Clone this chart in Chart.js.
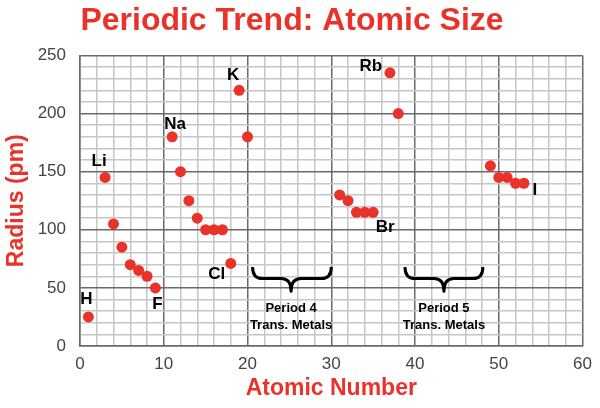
<!DOCTYPE html>
<html>
<head>
<meta charset="utf-8">
<script src="https://cdn.jsdelivr.net/npm/chart.js@4.4.1/dist/chart.umd.min.js"></script>
<style>
  html, body { margin: 0; padding: 0; background: #fff; }
  #wrap { width: 600px; height: 408px; }
</style>
</head>
<body>
<div id="wrap"><canvas id="sizeChart" width="600" height="408"></canvas></div>
<script>
// Atomic number vs. radius (pm)
const atomicNumber = [1, 3, 4, 5, 6, 7, 8, 9, 11, 12, 13, 14, 15, 16, 17, 18, 19, 20,
  31, 32, 33, 34, 35, 37, 38, 49, 50, 51, 52, 53];
const radius = [25, 145, 105, 85, 70, 65, 60, 50, 180, 150, 125, 110, 100, 100, 100, 71, 220, 180,
  130, 125, 115, 115, 115, 235, 200, 155, 145, 145, 140, 140];

// Element labels next to some points
const labelNames = ["H", "Li", "F", "Na", "Cl", "K", "Rb", "Br", "I"];
const labelAt = [1, 3, 9, 11, 18, 19, 37, 35, 53];

// Axis tick labels
const xTickLabels = [0, 10, 20, 30, 40, 50, 60];
const yTickLabels = [0, 50, 100, 150, 200, 250];

// Transition metal braces (in axis units) and their captions
const braceFrom = [20.6, 38.8];
const braceTo = [30, 48.1];
const braceCenter = [25.2, 43.45];
const braceText = [["Period 4", "Trans. Metals"], ["Period 5", "Trans. Metals"]];

const RED = "#e8322a";
const FONT = "'Liberation Sans', Arial, Helvetica, sans-serif";

// label offsets from the point, in pixels
const labelOffset = {
  H: [-2, -18], Li: [-6, -16], F: [2, 16], Na: [3, -12], Cl: [-14, 11],
  K: [-6, -15], Rb: [-19, -7], Br: [12, 15], I: [11, 7]
};

const annotate = {
  id: "annotate",
  afterDatasetsDraw(chart) {
    const { ctx, scales: { x, y } } = chart;
    ctx.save();

    // element names
    ctx.fillStyle = "#000";
    ctx.font = "bold 17px " + FONT;
    ctx.textAlign = "center";
    ctx.textBaseline = "middle";
    labelNames.forEach((name, i) => {
      const k = atomicNumber.indexOf(labelAt[i]);
      const px = x.getPixelForValue(atomicNumber[k]);
      const py = y.getPixelForValue(radius[k]);
      const off = labelOffset[name];
      ctx.fillText(name, px + off[0], py + off[1]);
    });

    // braces
    ctx.strokeStyle = "#000";
    ctx.lineWidth = 3;
    ctx.lineJoin = "round";
    braceFrom.forEach((from, i) => {
      const L = x.getPixelForValue(from);
      const R = x.getPixelForValue(braceTo[i]);
      const C = x.getPixelForValue(braceCenter[i]);
      const T = y.getPixelForValue(68);
      const M = y.getPixelForValue(58);
      const B = y.getPixelForValue(47);
      const r = 10;
      ctx.beginPath();
      ctx.moveTo(L, T);
      ctx.quadraticCurveTo(L, M, L + r, M);
      ctx.lineTo(C - r, M);
      ctx.quadraticCurveTo(C, M, C, B);
      ctx.quadraticCurveTo(C, M, C + r, M);
      ctx.lineTo(R - r, M);
      ctx.quadraticCurveTo(R, M, R, T);
      ctx.stroke();

      ctx.font = "bold 13px " + FONT;
      ctx.fillText(braceText[i][0], C, B + 17);
      ctx.fillText(braceText[i][1], C, B + 34);
    });
    ctx.restore();
  }
};

function gridColor(c) {
  return c.tick && c.tick.value % (c.scale.axis === "x" ? 10 : 50) === 0 ? "#6a6a6a" : "#c6c6c6";
}

new Chart(document.getElementById("sizeChart"), {
  type: "scatter",
  data: {
    datasets: [{
      data: atomicNumber.map((z, i) => ({ x: z, y: radius[i] })),
      backgroundColor: RED,
      borderWidth: 0,
      pointRadius: 5.5
    }]
  },
  options: {
    responsive: false,
    animation: false,
    layout: { padding: { left: 0, right: 16, top: 0, bottom: 0 } },
    plugins: {
      legend: { display: false },
      tooltip: { enabled: false },
      title: {
        display: true,
        text: "Periodic Trend: Atomic Size",
        color: RED,
        font: { family: FONT, size: 32, weight: "bold" },
        padding: { top: 2, bottom: 15 }
      }
    },
    scales: {
      x: {
        type: "linear",
        min: 0,
        max: 60,
        ticks: {
          stepSize: 2,
          autoSkip: false,
          maxRotation: 0,
          color: "#444",
          font: { family: FONT, size: 17 },
          padding: 8,
          callback: v => xTickLabels.includes(v) ? v : ""
        },
        grid: { color: gridColor, lineWidth: 1.5, drawTicks: false },
        border: { color: "#6a6a6a", width: 1.5 },
        title: {
          display: true,
          text: "Atomic Number",
          color: RED,
          font: { family: FONT, size: 23, weight: "bold" },
          padding: { top: 0, bottom: 6 }
        },
        afterFit: s => { s.height = 62; }
      },
      y: {
        type: "linear",
        min: 0,
        max: 250,
        ticks: {
          stepSize: 10,
          autoSkip: false,
          color: "#444",
          font: { family: FONT, size: 17 },
          padding: 14,
          callback: v => yTickLabels.includes(v) ? v : ""
        },
        grid: { color: gridColor, lineWidth: 1.5, drawTicks: false },
        border: { color: "#6a6a6a", width: 1.5 },
        title: {
          display: true,
          text: "Radius (pm)",
          color: RED,
          font: { family: FONT, size: 23, weight: "bold" },
          padding: { top: 3, bottom: 0 }
        },
        afterFit: s => { s.width = 80; }
      }
    }
  },
  plugins: [annotate]
});
</script>
</body>
</html>
